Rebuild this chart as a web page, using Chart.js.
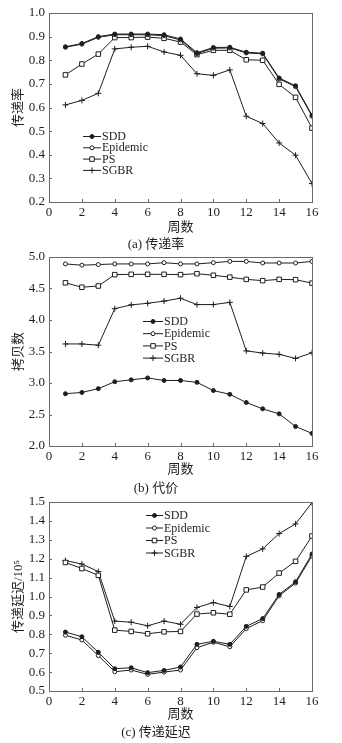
<!DOCTYPE html>
<html><head><meta charset="utf-8">
<script src="https://cdn.jsdelivr.net/npm/chart.js@4/dist/chart.umd.min.js"></script>
<style>
html,body{margin:0;padding:0;background:#fff;width:342px;height:743px;overflow:hidden;}
.wrap{position:absolute;left:0;width:342px;}
canvas{display:block;}
</style></head>
<body>
<div class="wrap" id="wa" style="top:0px;height:252px;"><canvas id="ca"></canvas></div>
<div class="wrap" id="wb" style="top:245px;height:251px;"><canvas id="cb"></canvas></div>
<div class="wrap" id="wc" style="top:490px;height:250px;"><canvas id="cc"></canvas></div>
<script>
// ---- data ----
const weeks = [1,2,3,4,5,6,7,8,9,10,11,12,13,14,15,16];
const seriesNames = ['SDD','Epidemic','PS','SGBR'];
const xTickLabelStep = 2;

const sddRate  = [0.857,0.871,0.900,0.911,0.911,0.911,0.908,0.890,0.832,0.854,0.855,0.834,0.830,0.725,0.692,0.567];
const epiRate  = [0.855,0.868,0.897,0.908,0.908,0.908,0.904,0.886,0.828,0.851,0.852,0.831,0.827,0.721,0.688,0.563];
const psRate   = [0.738,0.784,0.826,0.896,0.896,0.898,0.893,0.877,0.824,0.842,0.842,0.802,0.800,0.698,0.643,0.513];
const sgbrRate = [0.611,0.630,0.660,0.848,0.855,0.859,0.835,0.821,0.743,0.736,0.759,0.563,0.532,0.450,0.398,0.278];

const sddCost  = [2.83,2.85,2.91,3.02,3.05,3.08,3.04,3.04,3.01,2.88,2.82,2.69,2.59,2.51,2.31,2.20];
const epiCost  = [4.89,4.87,4.88,4.89,4.89,4.89,4.91,4.89,4.89,4.91,4.93,4.93,4.905,4.905,4.905,4.93];
const psCost   = [4.59,4.52,4.54,4.72,4.725,4.725,4.725,4.72,4.735,4.71,4.68,4.645,4.625,4.645,4.64,4.585];
const sgbrCost = [3.62,3.62,3.60,4.18,4.24,4.265,4.30,4.345,4.245,4.245,4.28,3.51,3.475,3.455,3.39,3.48];

const sddDelay  = [0.812,0.787,0.705,0.618,0.623,0.597,0.609,0.627,0.747,0.763,0.747,0.842,0.883,1.011,1.078,1.225];
const epiDelay  = [0.795,0.770,0.687,0.602,0.611,0.588,0.600,0.611,0.729,0.758,0.734,0.830,0.872,1.004,1.071,1.215];
const psDelay   = [1.180,1.148,1.112,0.822,0.815,0.803,0.813,0.815,0.907,0.914,0.906,1.035,1.050,1.124,1.186,1.320];
const sgbrDelay = [1.190,1.172,1.132,0.870,0.864,0.845,0.870,0.853,0.942,0.968,0.947,1.212,1.252,1.333,1.384,1.497];

const xTitle = '周数';
const captions = ['(a) 传递率','(b) 代价','(c) 传递延迟'];
const yTitles = ['传递率','拷贝数','传递延迟/10⁵'];
const yRanges = [[0.2,1.0,0.1],[2.0,5.0,0.5],[0.5,1.5,0.1]];

// ---- styling ----
const SERIF = '"Liberation Serif","DejaVu Serif",serif';
const CJK = '"Liberation Serif","Noto Sans CJK SC",serif';
const INK = '#1e1e1e';
const FRAME = '#6a6a6a';
const PLOT_H = 189;
const TITLE_H = 13*1.2;

const styles = [
  {pointStyle:'circle', pointRadius:2.0, pointBackgroundColor:INK},
  {pointStyle:'circle', pointRadius:2.0, pointBackgroundColor:'#fff'},
  {pointStyle:'rect',   pointRadius:3.2, pointBackgroundColor:'#fff'},
  {pointStyle:'cross',  pointRadius:3.0, pointBackgroundColor:INK},
];

function makeDatasets(arrs){
  return arrs.map((a,i)=>Object.assign({
    label: seriesNames[i],
    data: weeks.map((w,j)=>({x:w,y:a[j]})),
    borderColor: INK, borderWidth: 1, pointBorderColor: INK, pointBorderWidth: 1,
    tension: 0, fill:false
  }, styles[i]));
}

const framePlugin = {
  id:'frameTicks',
  afterDatasetsDraw(chart){
    const {ctx, chartArea:a, scales} = chart;
    ctx.save();
    ctx.strokeStyle = FRAME; ctx.lineWidth = 1;
    ctx.strokeRect(Math.round(a.left)+0.5, Math.round(a.top)+0.5, Math.round(a.right-a.left), Math.round(a.bottom-a.top));
    ctx.beginPath();
    scales.x.ticks.forEach(t=>{
      const px = Math.round(scales.x.getPixelForValue(t.value))+0.5;
      ctx.moveTo(px, a.bottom); ctx.lineTo(px, a.bottom-3);
    });
    scales.y.ticks.forEach(t=>{
      const py = Math.round(scales.y.getPixelForValue(t.value))+0.5;
      ctx.moveTo(a.left, py); ctx.lineTo(a.left+3, py);
    });
    ctx.stroke();
    ctx.restore();
  }
};

const legendPlugin = {
  id:'innerLegend',
  afterDraw(chart, args, opts){
    const {ctx, chartArea:a} = chart;
    ctx.save();
    ctx.font = '12px ' + SERIF;
    ctx.textBaseline = 'middle';
    chart.data.datasets.forEach((ds,i)=>{
      const y = a.top + opts.y + i*opts.gap;
      const x0 = a.left + opts.x;
      ctx.strokeStyle = INK; ctx.lineWidth = 1;
      ctx.beginPath(); ctx.moveTo(x0, y+0.5); ctx.lineTo(x0+opts.len, y+0.5); ctx.stroke();
      ctx.fillStyle = ds.pointBackgroundColor; ctx.strokeStyle = INK;
      Chart.helpers.drawPoint(ctx, {pointStyle: ds.pointStyle, radius: ds.pointRadius, rotation:0, borderWidth:1}, x0+opts.len/2, y+0.5);
      ctx.fillStyle = INK;
      ctx.fillText(ds.label, x0+opts.len+1, y+1);
    });
    ctx.restore();
  }
};

function build(canvasId, idx, arrs, padTop, legendOpts, xTitlePadBottom){
  const [ymin,ymax,ystep] = yRanges[idx];
  return new Chart(document.getElementById(canvasId), {
    type:'line',
    data:{datasets: makeDatasets(arrs)},
    plugins:[framePlugin, legendPlugin],
    options:{
      responsive:true, maintainAspectRatio:false, animation:false,
      layout:{padding:{top:padTop, left:0, right:30, bottom:0}},
      plugins:{
        legend:{display:false}, tooltip:{enabled:false},
        title:{display:true, position:'bottom', text:captions[idx], color:INK,
               font:{family:CJK, size:13, weight:'normal', lineHeight:1.2}, padding:0},
        innerLegend: legendOpts
      },
      scales:{
        x:{type:'linear', min:0, max:16,
           grid:{display:false, drawTicks:false}, border:{display:false},
           ticks:{stepSize:xTickLabelStep, color:INK, padding:3, font:{family:SERIF, size:13}, maxRotation:0,
                  callback:v=>String(v)},
           title:{display:true, text:xTitle, color:INK, font:{family:CJK, size:13, lineHeight:1.2},
                  padding:{top:0,bottom:xTitlePadBottom}},
           afterFit(s){ s.height = s.chart.height - padTop - PLOT_H - TITLE_H; }
        },
        y:{type:'linear', min:ymin, max:ymax,
           grid:{display:false, drawTicks:false}, border:{display:false},
           ticks:{stepSize:ystep, color:INK, padding:4, font:{family:SERIF, size:13},
                  callback:v=>Number(v).toFixed(1)},
           title:{display:true, text:yTitles[idx], color:INK, font:{family:CJK, size:13, lineHeight:1.2},
                  padding:{top:11,bottom:0}},
           afterFit(s){ s.width = 49; }
        }
      }
    }
  });
}

build('ca', 0, [sddRate, epiRate, psRate, sgbrRate], 13, {x:34, y:123, gap:11.3, len:18}, 1);
build('cb', 1, [sddCost, epiCost, psCost, sgbrCost], 12, {x:94, y:64, gap:12.2, len:20}, 2.6);
build('cc', 2, [sddDelay, epiDelay, psDelay, sgbrDelay], 12, {x:97, y:13, gap:12.5, len:17}, 1.6);
</script>
</body></html>
